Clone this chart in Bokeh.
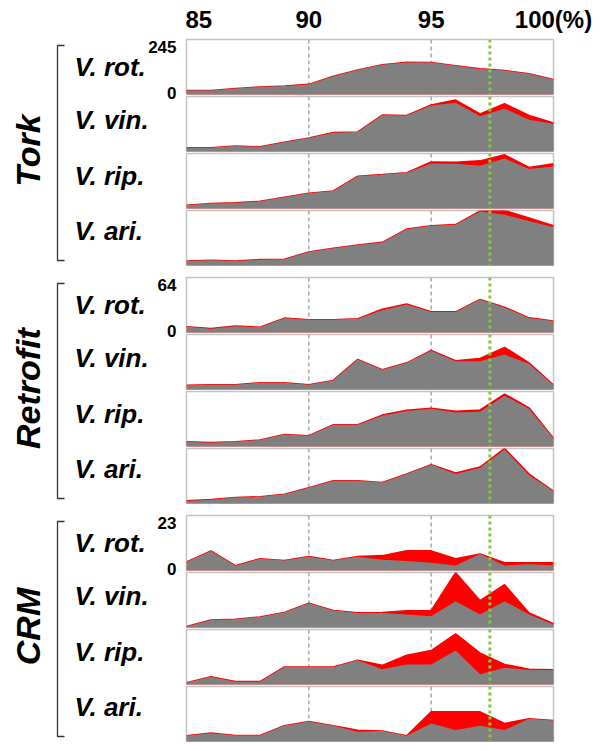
import math
from bokeh.plotting import figure
from bokeh.layouts import row, column
from bokeh.models import Range1d, LinearAxis, FixedTicker, Span, Label
from bokeh.embed import file_html
from bokeh.resources import INLINE
from bokeh.core.properties import value

FONT = "Liberation Sans"

# ---------------- data ----------------
x_pct = [85, 86, 87, 88, 89, 90, 91, 92, 93, 94, 95, 96, 97, 98, 99, 100]
x_ticks = [85, 90, 95, 100]
x_tick_labels = ["85", "90", "95", "100(%)"]
ref_lines = [90, 95]
threshold = 97.4
threshold_label = "97.4"

groups = ["Tork", "Retrofit", "CRM"]
species = ["V. rot.", "V. vin.", "V. rip.", "V. ari."]
group_max = [245, 64, 23]

tork_rot_gray = [18, 18, 27, 33, 38, 45, 81, 109, 132, 143, 142, 128, 114, 107, 92, 67]
tork_rot_red = [18, 18, 27, 33, 38, 45, 81, 109, 132, 143, 142, 128, 114, 107, 92, 67]
tork_vin_gray = [17, 17, 24, 21, 41, 60, 84, 87, 162, 160, 205, 217, 157, 192, 141, 124]
tork_vin_red = [17, 17, 24, 21, 41, 60, 84, 87, 162, 160, 207, 229, 167, 213, 160, 127]
tork_rip_gray = [14, 22, 25, 32, 50, 68, 78, 144, 151, 159, 201, 199, 190, 223, 176, 187]
tork_rip_red = [14, 22, 25, 32, 50, 68, 78, 144, 151, 159, 207, 206, 212, 239, 183, 199]
tork_ari_gray = [20, 23, 20, 26, 28, 60, 77, 91, 103, 162, 177, 182, 241, 226, 198, 170]
tork_ari_red = [20, 23, 20, 26, 28, 60, 77, 91, 103, 162, 177, 182, 243, 245, 212, 177]

retro_rot_gray = [6.7, 4.5, 7.4, 6, 16.7, 14.9, 14.9, 16, 26, 32.7, 24, 24, 38.3, 29, 17, 13.4]
retro_rot_red = [6.7, 4.5, 7.4, 6, 16.7, 14.9, 14.9, 16, 27, 33.2, 24, 24, 38.3, 29.5, 17, 13.4]
retro_vin_gray = [4.9, 5.6, 5.6, 7.9, 7.9, 5.6, 10.5, 35, 23, 31, 45, 33, 33, 40.6, 30, 5]
retro_vin_red = [4.9, 5.6, 5.6, 7.9, 7.9, 5.6, 10.5, 35, 23, 31, 45.5, 33.5, 36, 49, 31, 5]
retro_rip_gray = [5.6, 4.5, 5.6, 7.5, 13.9, 12.4, 25.2, 25.2, 35.8, 41.4, 44, 39.5, 40.3, 59, 44, 9.4]
retro_rip_red = [5.6, 4.5, 5.6, 7.5, 13.9, 12.4, 25.2, 25.2, 36.5, 42, 44.5, 41, 42.5, 61, 45, 9.4]
retro_ari_gray = [3, 4.5, 7, 7.8, 10.8, 18.2, 26.4, 26.4, 24.5, 34.2, 45, 34.2, 41.7, 62.9, 33, 14.5]
retro_ari_red = [3, 4.5, 7, 7.8, 10.8, 18.2, 26.4, 26.4, 24.5, 34.2, 45, 35.5, 42.4, 64, 34.2, 14.5]

crm_rot_gray = [3.6, 8.2, 2, 4.9, 4.2, 5.8, 4.2, 5.8, 4.5, 4, 3.2, 2.1, 6.9, 2.1, 2.6, 2.2]
crm_rot_red = [3.6, 8.2, 2, 4.9, 4.2, 5.8, 4.2, 5.8, 6.2, 8.2, 8.2, 4.9, 6.9, 3.2, 3.2, 3.2]
crm_vin_gray = [0.4, 3.1, 3.4, 4.4, 6.3, 10.1, 7.1, 6.1, 6.1, 5.4, 4.7, 11, 5.4, 11, 5.4, 1.3]
crm_vin_red = [0.4, 3.1, 3.4, 4.4, 6.3, 10.1, 7.1, 6.1, 6.3, 7, 7, 22.9, 11.2, 17.9, 6.1, 1.6]
crm_rip_gray = [0.7, 3.2, 1.2, 1.2, 7.3, 7.3, 7.3, 10.1, 6.4, 8.4, 8.4, 14.2, 4.3, 7, 6.1, 6.1]
crm_rip_red = [0.7, 3.2, 1.2, 1.2, 7.3, 7.3, 7.3, 10.1, 8, 12.2, 14.2, 21.2, 13.1, 8.4, 6.4, 6.1]
crm_ari_gray = [2.4, 3.5, 2.5, 2.5, 6.6, 8.4, 6.6, 4.1, 4.4, 2.4, 7.5, 4.8, 6.6, 4.8, 9.5, 8.8]
crm_ari_red = [2.4, 3.5, 2.5, 2.5, 6.6, 8.4, 6.6, 4.7, 4.4, 2.4, 12.4, 12.4, 12.4, 7.5, 9.5, 8.8]

series = {
    "Tork": [(tork_rot_gray, tork_rot_red), (tork_vin_gray, tork_vin_red),
             (tork_rip_gray, tork_rip_red), (tork_ari_gray, tork_ari_red)],
    "Retrofit": [(retro_rot_gray, retro_rot_red), (retro_vin_gray, retro_vin_red),
                 (retro_rip_gray, retro_rip_red), (retro_ari_gray, retro_ari_red)],
    "CRM": [(crm_rot_gray, crm_rot_red), (crm_vin_gray, crm_vin_red),
            (crm_rip_gray, crm_rip_red), (crm_ari_gray, crm_ari_red)],
}

# ---------------- style ----------------
GRAY = "#808080"
RED = "#ff0000"
GREEN_LINE = "#86c540"
GREEN_TXT = "#1fa04c"
OUTLINE = "#c4c4c4"
DASH = "#a8a8a8"

FW, FH = 367, 55
STRIDE = FH + 2
LEFT_W = 185
RIGHT_B = 40
BLOCK_H = 4 * STRIDE
TOP_AXIS = 39
GAP = 10

xr = Range1d(85, 100)


def make_panel(gray, red, ymax, top_border, with_top_axis):
    p = figure(frame_width=FW, frame_height=FH, x_range=xr, y_range=Range1d(0, ymax),
               x_axis_location=None, y_axis_location=None,
               output_backend="svg", toolbar_location=None,
               min_border_left=1, min_border_right=RIGHT_B,
               min_border_top=top_border, min_border_bottom=1,
               outline_line_color=OUTLINE, outline_line_width=1.5,
               background_fill_color="white", border_fill_color="white")
    p.grid.visible = False
    for loc in ref_lines:
        p.add_layout(Span(location=loc, dimension="height", line_color=DASH,
                          line_dash="4 3", line_width=1.5, level="underlay"))
    p.varea(x=x_pct, y1=0, y2=red, fill_color=RED)
    p.line(x=x_pct, y=red, line_color=RED, line_width=1.6)
    p.varea(x=x_pct, y1=0, y2=gray, fill_color=GRAY)
    p.add_layout(Span(location=threshold, dimension="height", line_color=GREEN_LINE,
                      line_dash="3 3", line_width=3))
    if with_top_axis:
        ax = LinearAxis(ticker=FixedTicker(ticks=x_ticks),
                        major_label_overrides=dict(zip(x_ticks, x_tick_labels)),
                        axis_line_color=None, major_tick_line_color=None,
                        minor_tick_line_color=None, major_tick_in=0, major_tick_out=0,
                        major_label_standoff=7,
                        major_label_text_font=FONT, major_label_text_font_style="bold",
                        major_label_text_font_size="24px", major_label_text_color="black")
        p.add_layout(ax, "above")
        p.add_layout(Label(x=threshold, y=FH + 7, y_units="screen", text=threshold_label,
                           text_align="center", text_baseline="bottom",
                           text_color=GREEN_TXT, text_font=FONT, text_font_style="bold",
                           text_font_size="20px"))
    return p


def make_left(gi, top_border):
    f = figure(frame_width=LEFT_W, frame_height=BLOCK_H,
               x_range=Range1d(0, LEFT_W), y_range=Range1d(0, BLOCK_H),
               x_axis_location=None, y_axis_location=None,
               output_backend="svg", toolbar_location=None,
               min_border_left=0, min_border_right=0,
               min_border_top=top_border, min_border_bottom=0,
               outline_line_color=None,
               background_fill_color="white", border_fill_color="white")
    f.grid.visible = False
    # bracket
    f.line(x=[64, 57, 57, 64], y=[BLOCK_H - 7, BLOCK_H - 7, 6, 6],
           line_color="#333333", line_width=1.3)
    # group title
    f.text(x=[27], y=[BLOCK_H / 2 + 2], text=[groups[gi]], angle=math.pi / 2,
           text_align="center", text_baseline="middle", text_color="black",
           text_font=value(FONT), text_font_style="bold italic", text_font_size="34px")
    # species names
    f.text(x=[74] * 4, y=[BLOCK_H - 28, BLOCK_H - 81, BLOCK_H - 137, BLOCK_H - 192],
           text=species, text_align="left", text_baseline="middle", text_color="black",
           text_font=value(FONT), text_font_style="bold italic", text_font_size="26px")
    # y-scale labels of the first panel
    f.text(x=[176, 176], y=[BLOCK_H - 8, BLOCK_H - 54],
           text=[str(group_max[gi]), "0"], text_align="right", text_baseline="middle",
           text_color="black", text_font=value(FONT), text_font_style="bold",
           text_font_size="17px")
    return f


rows = []
for gi, g in enumerate(groups):
    panels = []
    for si in range(4):
        gray, red = series[g][si]
        if si == 0:
            tb = TOP_AXIS if gi == 0 else GAP + 1
        else:
            tb = 1
        panels.append(make_panel(gray, red, group_max[gi], tb, gi == 0 and si == 0))
    left = make_left(gi, TOP_AXIS - 1 if gi == 0 else GAP)
    rows.append(row(left, column(*panels, spacing=0), spacing=0))

layout = column(*rows, spacing=0)

open("out.html", "w").write(file_html(layout, INLINE))
